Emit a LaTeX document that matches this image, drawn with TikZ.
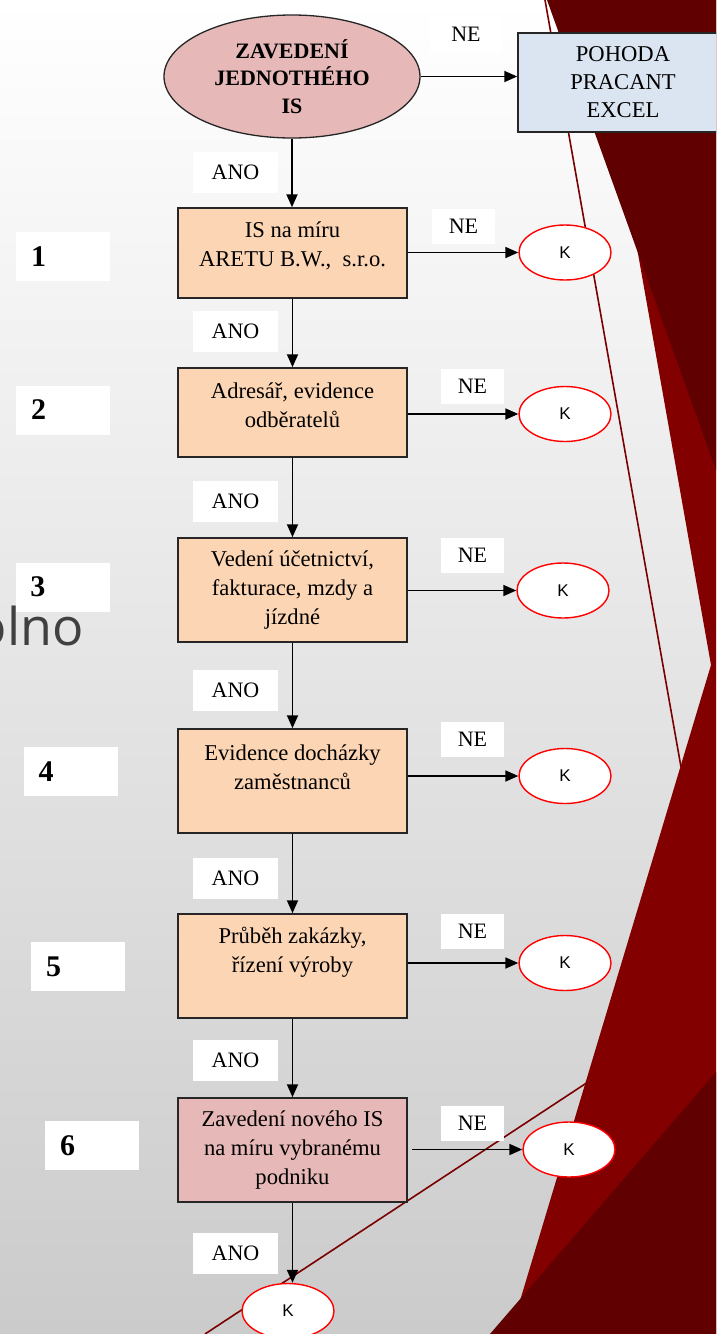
\documentclass[tikz,border=0pt]{standalone}
\usepackage{fontspec}
\setmainfont{Liberation Serif}
\newfontfamily\ksans{Liberation Sans}
\newfontfamily\osans{Open Sans}
\usetikzlibrary{shapes.geometric,arrows.meta}
\definecolor{bgbot}{HTML}{CBCBCB}
\definecolor{redD}{HTML}{600000}
\definecolor{redB}{HTML}{820000}
\definecolor{redL}{HTML}{7A0000}
\definecolor{pinkf}{HTML}{E6B8B7}
\definecolor{peach}{HTML}{FCD5B4}
\definecolor{bluef}{HTML}{DBE5F1}
\definecolor{olgray}{HTML}{404040}
\begin{document}
\begin{tikzpicture}[x=1pt,y=-1pt,
  proc/.style={draw=black!85, line width=1.5pt, fill=peach, minimum width=229pt, inner sep=0pt},
  ptext/.style={align=center, inner sep=0pt, font=\fontsize{22.6}{29}\selectfont},
  lbl/.style={fill=white, minimum width=85pt, minimum height=41pt, inner sep=0pt, font=\fontsize{22}{26}\selectfont},
  nelbl/.style={lbl, minimum width=63pt, minimum height=35pt},
  kell/.style={ellipse, draw=red, line width=1.4pt, fill=white, minimum width=92pt, minimum height=55pt, inner sep=0pt, font=\ksans\fontsize{17}{20}\selectfont},
  arr/.style={-{Triangle[length=13pt,width=11pt]}, line width=1.8pt, black},
  num/.style={fill=white, text width=64pt, inner xsep=15pt, inner ysep=0pt, minimum height=49pt, align=left, font=\bfseries\fontsize{30}{30}\selectfont}]
\useasboundingbox (0,0) rectangle (716,1334);
\clip (0,0) rectangle (716,1334);
% background
\shade[top color=white, bottom color=bgbot] (0,0) rectangle (716,1334);
\fill[redB] (593,0) -- (716,0) -- (716,1334) -- (510,1334) -- (711,665) -- cycle;
\fill[redD] (547,0) -- (716,0) -- (716,470) -- cycle;
\fill[redD] (716,1072) -- (490,1334) -- (716,1334) -- cycle;
\draw[redL, line width=1.6pt] (545,0) -- (681,767);
\draw[redL, line width=1.6pt] (588,1082) -- (205,1334);
\node[anchor=base east, inner sep=0pt, text=olgray, font=\osans\fontsize{52}{52}\selectfont] (olno) at (84,645) {olno};

% top
\node[ellipse, draw=black!85, line width=1.3pt, fill=pinkf, minimum width=256pt, minimum height=123pt, inner sep=0pt, align=center, font=\bfseries\fontsize{22}{27.5}\selectfont] (ell) at (292,76.5) {ZAVEDENÍ\\JEDNOTHÉHO\\IS};
\node[draw=black!85, line width=1.5pt, fill=bluef, minimum width=210pt, minimum height=99pt, inner sep=0pt, align=center, font=\fontsize{22.6}{28}\selectfont] (poh) at (623,82.5) {POHODA\\PRACANT\\EXCEL};

% process boxes
\node[proc, minimum height=90pt] (b1) at (292.5,253) {};
\node[proc, minimum height=89pt] (b2) at (292.5,412.5) {};
\node[proc, minimum height=104pt] (b3) at (292.5,590) {};
\node[proc, minimum height=104pt] (b4) at (292.5,781) {};
\node[proc, minimum height=104pt] (b5) at (292.5,966) {};
\node[proc, minimum height=104pt, fill=pinkf] (b6) at (292.5,1150) {};
\node[ptext] (t1) at (292.5,246) {IS na míru\\ARETU B.W.,~~s.r.o.};
\node[ptext] (t2) at (292.5,405) {Adresář, evidence\\odběratelů};
\node[ptext] (t3) at (292.5,590) {Vedení účetnictví,\\fakturace, mzdy a\\jízdné};
\node[ptext] (t4) at (292.5,767) {Evidence docházky\\zaměstnanců};
\node[ptext] (t5) at (292.5,952) {Průběh zakázky,\\řízení výroby};
\node[ptext] (t6) at (292.5,1150) {Zavedení nového IS\\na míru vybranému\\podniku};

% K ellipses
\node[kell] (k1) at (565,252.5) {K};
\node[kell] (k2) at (565,414) {K};
\node[kell] (k3) at (563,590.5) {K};
\node[kell] (k4) at (565,776) {K};
\node[kell] (k5) at (565,963) {K};
\node[kell] (k6) at (569,1149.5) {K};
\node[kell] (k7) at (288,1311) {K};

% labels
\node[nelbl, minimum width=72pt, minimum height=36pt] (ne0) at (466,34) {NE};
\node[nelbl] (ne1) at (463.5,226) {NE};
\node[nelbl] (ne2) at (472.5,386) {NE};
\node[nelbl] (ne3) at (472.5,555) {NE};
\node[nelbl] (ne4) at (472.5,739) {NE};
\node[nelbl] (ne5) at (472.5,931) {NE};
\node[nelbl] (ne6) at (472.5,1123) {NE};
\node[lbl] (a1) at (235.5,172) {ANO};
\node[lbl] (a2) at (235.5,331) {ANO};
\node[lbl] (a3) at (235.5,501) {ANO};
\node[lbl] (a4) at (235.5,690) {ANO};
\node[lbl] (a5) at (235.5,878) {ANO};
\node[lbl] (a6) at (235.5,1060) {ANO};
\node[lbl] (a7) at (235.5,1253) {ANO};

% numbers
\node[num] (n1) at (63,256.5) {1};
\node[num] (n2) at (63,410) {2};
\node[num] (n3) at (62.5,587) {3};
\node[num] (n4) at (70.5,771.5) {4};
\node[num] (n5) at (78,966.5) {5};
\node[num] (n6) at (92,1145.5) {6};

% connectors
\draw[arr] (ell.east) -- (ell.east -| poh.west);
\draw[arr] (ell.south) -- (ell.south |- b1.north);
\draw[arr] (b1.south) -- (b2.north);
\draw[arr] (b2.south) -- (b3.north);
\draw[arr] (b3.south) -- (b4.north);
\draw[arr] (b4.south) -- (b5.north);
\draw[arr] (b5.south) -- (b6.north);
\draw[arr] (b6.south) -- (b6.south |- k7.north);
\draw[arr] (b1.east |- k1.west) -- (k1.west);
\draw[arr] (b2.east |- k2.west) -- (k2.west);
\draw[arr] (b3.east |- k3.west) -- (k3.west);
\draw[arr] (b4.east |- k4.west) -- (k4.west);
\draw[arr] (b5.east |- k5.west) -- (k5.west);
\coordinate (s6) at ([xshift=4pt]b6.east);
\draw[arr] (s6 |- k6.west) -- (k6.west);
\end{tikzpicture}
\end{document}
